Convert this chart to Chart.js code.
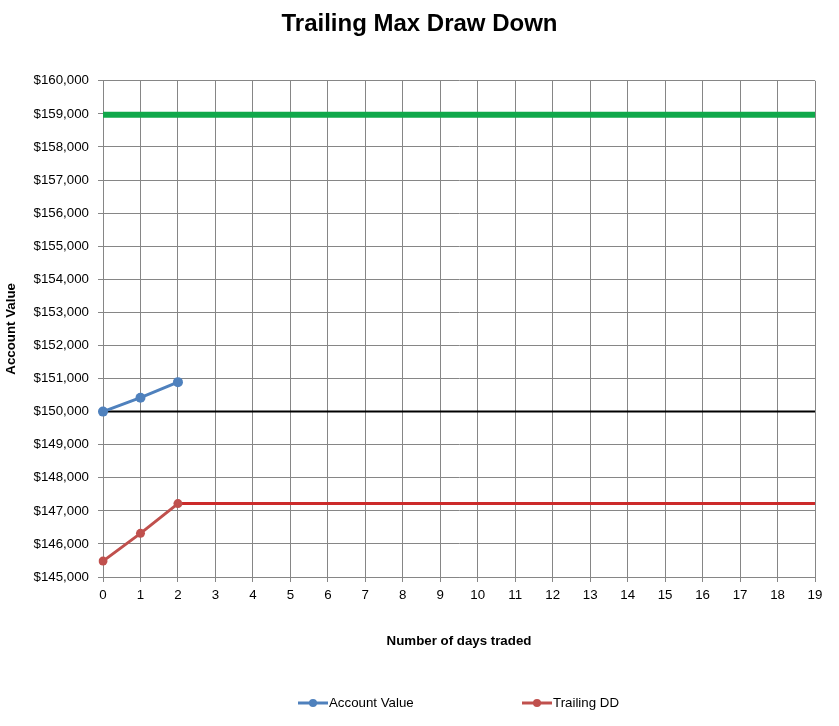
<!DOCTYPE html>
<html>
<head>
<meta charset="utf-8">
<script src="https://cdn.jsdelivr.net/npm/chart.js@4/dist/chart.umd.min.js"></script>
<style>
  body { margin: 0; background: #fff; }
  #wrap { position: relative; width: 839px; height: 726px; }
  #legend { position: absolute; top: 694px; left: 0; width: 839px; font: 13.3px "Liberation Sans", Arial, sans-serif; color: #000; }
  .item { position: absolute; top: 0; white-space: nowrap; line-height: 18px; }
  .mark { display: inline-block; vertical-align: middle; margin-right: 1px; }
</style>
</head>
<body>
<div id="wrap">
  <canvas id="chart" width="839" height="726"></canvas>
  <div id="legend"></div>
</div>
<script>
const days = ['0','1','2','3','4','5','6','7','8','9','10','11','12','13','14','15','16','17','18','19'];
const accountValue = [150000, 150420, 150890];
const trailingDD = [145480, 146320, 147220, 147220, 147220, 147220, 147220, 147220, 147220, 147220,
                    147220, 147220, 147220, 147220, 147220, 147220, 147220, 147220, 147220, 147220];
const target = days.map(() => 158970);
const startBalance = days.map(() => 150000);
const yTicks = { min: 145000, max: 160000, step: 1000 };

const money = v => '$' + v.toLocaleString('en-US');
const font = 'Liberation Sans, Arial, sans-serif';

const chart = new Chart(document.getElementById('chart'), {
  type: 'line',
  data: {
    labels: days,
    datasets: [
      {
        label: 'Account Value',
        data: accountValue,
        borderColor: '#4f81bd',
        backgroundColor: '#4f81bd',
        borderWidth: 3,
        pointRadius: 5,
        pointHoverRadius: 5,
        pointBorderWidth: 0,
        order: 1,
      },
      {
        label: 'Trailing DD',
        data: trailingDD,
        borderColor: '#c0504d',
        backgroundColor: '#c0504d',
        borderWidth: 3,
        pointRadius: trailingDD.map((v, i) => i < 3 ? 4.5 : 0),
        pointHoverRadius: 4,
        pointBorderWidth: 0,
        segment: {
          borderColor: ctx => ctx.p0DataIndex >= 2 ? '#cc2a2a' : '#c0504d',
        },
        order: 2,
      },
      {
        label: 'Target',
        data: target,
        borderColor: '#10a84a',
        borderWidth: 6,
        pointRadius: 0,
        order: 3,
      },
      {
        label: 'Start',
        data: startBalance,
        borderColor: '#000000',
        borderWidth: 2,
        pointRadius: 0,
        order: 4,
      },
    ],
  },
  options: {
    responsive: false,
    animation: false,
    layout: { padding: { left: 0, right: 0, top: 0, bottom: 77 } },
    plugins: {
      legend: { display: false },
      tooltip: { enabled: false },
      title: {
        display: true,
        text: 'Trailing Max Draw Down',
        color: '#000',
        font: { family: font, size: 24, weight: 'bold' },
        padding: { top: 10, bottom: 42 },
      },
    },
    scales: {
      x: {
        offset: false,
        grid: { color: '#868686', tickLength: 5, offset: false },
        border: { color: '#868686' },
        ticks: { color: '#000', font: { family: font, size: 13.3 }, padding: 5, maxRotation: 0, autoSkip: false },
        title: {
          display: true,
          text: 'Number of days traded',
          color: '#000',
          font: { family: font, size: 13.3, weight: 'bold' },
          padding: 0,
        },
        afterFit: s => { s.height = 72; },
      },
      y: {
        min: yTicks.min,
        max: yTicks.max,
        grid: { color: '#868686', tickLength: 5 },
        border: { color: '#868686' },
        ticks: {
          stepSize: yTicks.step,
          color: '#000',
          font: { family: font, size: 13.3 },
          padding: 9,
          callback: v => money(v),
        },
        title: {
          display: true,
          text: 'Account Value',
          color: '#000',
          font: { family: font, size: 13.3, weight: 'bold' },
          padding: { top: 3, bottom: 0 },
        },
        afterFit: s => { s.width = 103; },
      },
      // empty right-hand strip so the plot ends where the original does
      yRight: {
        position: 'right',
        display: true,
        grid: { display: false, drawTicks: false },
        border: { display: false },
        ticks: { display: false },
        afterFit: s => { s.width = 24; },
      },
    },
  },
});

// legend only for the two traded series, spaced like the original
const legendPos = [298, 522];
const legend = document.getElementById('legend');
chart.data.datasets.slice(0, 2).forEach((ds, i) => {
  const item = document.createElement('span');
  item.className = 'item';
  item.style.left = legendPos[i] + 'px';
  item.innerHTML =
    '<svg class="mark" width="30" height="10"><line x1="0" y1="5" x2="30" y2="5" stroke="' + ds.borderColor +
    '" stroke-width="3"/><circle cx="15" cy="5" r="4" fill="' + ds.borderColor + '"/></svg>' + ds.label;
  legend.appendChild(item);
});
</script>
</body>
</html>
